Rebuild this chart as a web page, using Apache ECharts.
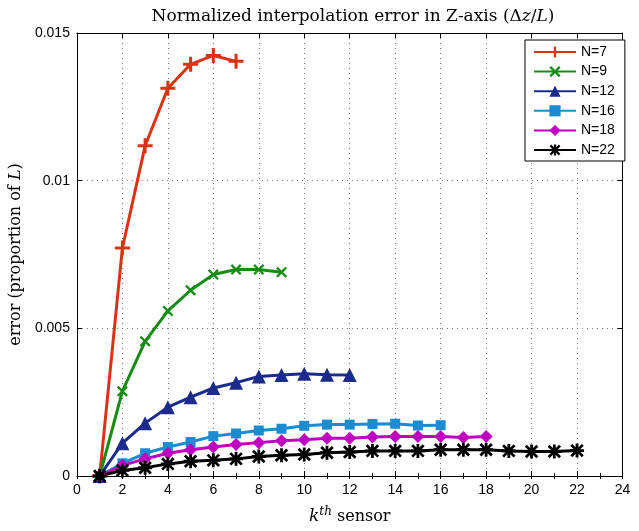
<!DOCTYPE html>
<html>
<head>
<meta charset="utf-8">
<script src="https://cdn.jsdelivr.net/npm/echarts@6/dist/echarts.min.js"></script>
<style>
  html, body { margin: 0; padding: 0; background: #fff; }
  #chart { width: 639px; height: 531px; }
</style>
</head>
<body>
<div id="chart"></div>
<script>
// values, index k = 1..n
var errN7 = [0, 0.00772, 0.01118, 0.01313, 0.01394, 0.01424, 0.01404]
var errN9 = [0, 0.00287, 0.00456, 0.00559, 0.00629, 0.00682, 0.00699, 0.00699, 0.00690]
var errN12 = [0, 0.00111, 0.00179, 0.00233, 0.00267, 0.00298, 0.00316, 0.00337, 0.00342, 0.00346, 0.00343, 0.00342]
var errN16 = [0, 0.00043, 0.00077, 0.00098, 0.00115, 0.00135, 0.00144, 0.00154, 0.00160, 0.00170, 0.00174, 0.00174,
  0.00176, 0.00177, 0.00171, 0.00172]
var errN18 = [0, 0.00036, 0.00058, 0.00077, 0.00089, 0.00098, 0.00107, 0.00113, 0.00119, 0.00123, 0.00128, 0.00128,
  0.00132, 0.00134, 0.00134, 0.00134, 0.00130, 0.00134]
var errN22 = [0, 0.00019, 0.00028, 0.00041, 0.00050, 0.00053, 0.00058, 0.00066, 0.00070, 0.00073, 0.00079, 0.00081,
  0.00085, 0.00085, 0.00085, 0.00089, 0.00089, 0.00089, 0.00085, 0.00083, 0.00083, 0.00086]

var seriesNames = ['N=7', 'N=9', 'N=12', 'N=16', 'N=18', 'N=22']
var seriesColors = ['#dc3214', '#168c16', '#1a2b8c', '#1b8bd2', '#c000c0', '#000000']

var plusPath = 'path://M4,0h2v4h4v2h-4v4h-2v-4h-4v-2h4z'
var crossPath = 'path://M1.5,0L5,3.5L8.5,0L10,1.5L6.5,5L10,8.5L8.5,10L5,6.5L1.5,10L0,8.5L3.5,5L0,1.5Z'
var starPath = 'path://M4,0h2v4h4v2h-4v4h-2v-4h-4v-2h4z' +
  'M1.6,0.2L5,3.6L8.4,0.2L9.8,1.6L6.4,5L9.8,8.4L8.4,9.8L5,6.4L1.6,9.8L0.2,8.4L3.6,5L0.2,1.6Z'
var symbols = [plusPath, crossPath, 'triangle', 'rect', 'diamond', starPath]
var symbolSizes = [15, 11, 14, 10, 13, 14]

function toPoints (arr) {
  return arr.map(function (v, i) { return [i + 1, v] })
}

var allData = [errN7, errN9, errN12, errN16, errN18, errN22]

var chart = echarts.init(document.getElementById('chart'))

var tickFont = { fontFamily: 'Liberation Sans', fontSize: 14, color: '#000' }
var serif = 'DejaVu Serif'

// plain x axis used only to draw the small unit ticks on the box edges
function unitTickAxis (pos) {
  return {
    type: 'value',
    position: pos,
    min: 0,
    max: 24,
    interval: 1,
    axisLine: { show: false },
    axisTick: { show: true, inside: true, length: 3, lineStyle: { color: '#000' } },
    axisLabel: { show: false },
    splitLine: { show: false }
  }
}

chart.setOption({
  backgroundColor: '#fff',
  animation: false,
  title: {
    text: 'Normalized interpolation error in Z-axis (Δ{i|z}/{i|L})',
    left: 348,
    top: 3,
    textAlign: 'center',
    textStyle: {
      fontFamily: serif,
      fontSize: 17,
      fontWeight: 'normal',
      color: '#000',
      rich: {
        i: { fontFamily: serif, fontStyle: 'italic', fontSize: 17, color: '#000' }
      }
    }
  },
  legend: {
    data: seriesNames,
    orient: 'vertical',
    left: 525,
    top: 40,
    width: 100,
    backgroundColor: '#fff',
    borderColor: '#000',
    borderWidth: 1,
    borderRadius: 0,
    padding: [5, 10, 4, 8],
    itemWidth: 42,
    itemHeight: 14,
    itemGap: 5.6,
    textStyle: { fontFamily: 'Liberation Sans', fontSize: 14, color: '#000' }
  },
  grid: {
    left: 73.5,
    right: 16.5,
    top: 33,
    bottom: 55,
    containLabel: false
  },
  xAxis: [
    {
      type: 'value',
      min: 0,
      max: 24,
      interval: 2,
      name: '{i|k}{sup|th} sensor',
      nameLocation: 'middle',
      nameGap: 30,
      nameTextStyle: {
        fontFamily: serif,
        fontSize: 16,
        color: '#000',
        rich: {
          i: { fontFamily: serif, fontStyle: 'italic', fontSize: 17, color: '#000' },
          sup: { fontFamily: serif, fontStyle: 'italic', fontSize: 12, color: '#000', padding: [0, 0, 9, 0] }
        }
      },
      axisLine: { show: true, onZero: false, lineStyle: { color: '#000', width: 1 } },
      axisTick: { show: true, inside: true, length: 5, lineStyle: { color: '#000' } },
      axisLabel: Object.assign({ margin: 7 }, tickFont),
      splitLine: { show: true, lineStyle: { color: '#777', type: [1, 4], width: 1 } }
    },
    {
      type: 'value',
      position: 'top',
      min: 0,
      max: 24,
      interval: 2,
      axisLine: { show: true, onZero: false, lineStyle: { color: '#000', width: 1 } },
      axisTick: { show: true, inside: true, length: 5, lineStyle: { color: '#000' } },
      axisLabel: { show: false },
      splitLine: { show: false }
    },
    unitTickAxis('bottom'),
    unitTickAxis('top')
  ],
  yAxis: [
    {
      type: 'value',
      min: 0,
      max: 0.015,
      interval: 0.005,
      name: 'error (proportion of {i|L})',
      nameLocation: 'middle',
      nameGap: 46,
      nameTextStyle: {
        fontFamily: serif,
        fontSize: 16,
        color: '#000',
        rich: {
          i: { fontFamily: serif, fontStyle: 'italic', fontSize: 16, color: '#000' }
        }
      },
      axisLine: { show: true, onZero: false, lineStyle: { color: '#000', width: 1 } },
      axisTick: { show: true, inside: true, length: 5, lineStyle: { color: '#000' } },
      axisLabel: Object.assign({ margin: 7, formatter: function (v) { return v === 0 ? '0' : String(+v.toFixed(3)) } }, tickFont),
      splitLine: { show: true, lineStyle: { color: '#777', type: [1, 4], width: 1 } }
    },
    {
      type: 'value',
      position: 'right',
      min: 0,
      max: 0.015,
      interval: 0.005,
      axisLine: { show: true, onZero: false, lineStyle: { color: '#000', width: 1 } },
      axisTick: { show: true, inside: true, length: 5, lineStyle: { color: '#000' } },
      axisLabel: { show: false },
      splitLine: { show: false }
    }
  ],
  series: allData.map(function (arr, idx) {
    return {
      name: seriesNames[idx],
      type: 'line',
      xAxisIndex: 0,
      yAxisIndex: 0,
      data: toPoints(arr),
      symbol: symbols[idx],
      symbolSize: symbolSizes[idx],
      showAllSymbol: true,
      color: seriesColors[idx],
      lineStyle: { color: seriesColors[idx], width: 3 },
      itemStyle: { color: seriesColors[idx], borderWidth: 0 },
      emphasis: { disabled: true }
    }
  })
})
</script>
</body>
</html>
